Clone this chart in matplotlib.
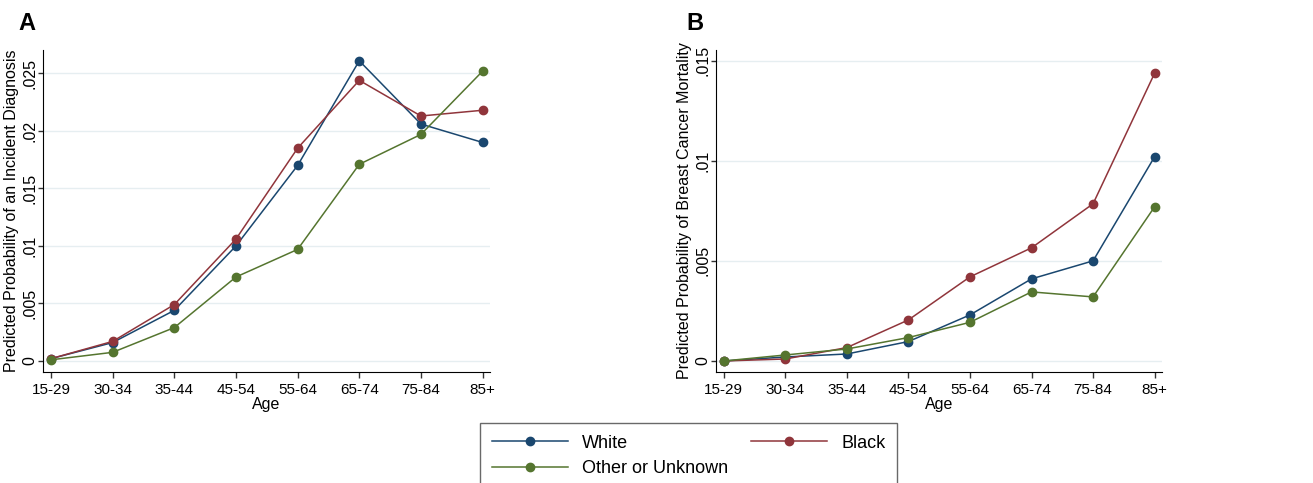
import numpy as np
import matplotlib.pyplot as plt

plt.rcParams['font.family'] = ['Liberation Sans', 'DejaVu Sans']

ages = ['15-29', '30-34', '35-44', '45-54', '55-64', '65-74', '75-84', '85+']
groups = ['White', 'Black', 'Other or Unknown']
colors = ['#1a476f', '#90353b', '#55752f']

# panel A: incident diagnosis
inc_white = [0.0002, 0.0016, 0.0044, 0.0100, 0.0170, 0.0261, 0.0206, 0.0190]
inc_black = [0.0002, 0.0017, 0.0049, 0.0106, 0.0185, 0.0244, 0.0213, 0.0218]
inc_other = [0.0001, 0.00075, 0.0029, 0.0073, 0.0097, 0.0171, 0.0197, 0.0252]

# panel B: breast cancer mortality
mort_white = [0.0, 0.0002, 0.00035, 0.00097, 0.0023, 0.0041, 0.0050, 0.0102]
mort_black = [0.0, 0.0001, 0.00067, 0.00205, 0.0042, 0.00565, 0.00785, 0.01437]
mort_other = [0.0, 0.0003, 0.0006, 0.00117, 0.00193, 0.00345, 0.0032, 0.0077]

inc_ticks = [0, 0.005, 0.01, 0.015, 0.02, 0.025]
inc_labels = ['0', '.005', '.01', '.015', '.02', '.025']
mort_ticks = [0, 0.005, 0.01, 0.015]
mort_labels = ['0', '.005', '.01', '.015']

fig = plt.figure(figsize=(13.13, 4.83), dpi=100)
axA = fig.add_axes([0.0327, 0.2298, 0.3405, 0.6667])
axB = fig.add_axes([0.5451, 0.2298, 0.3399, 0.6667])

x = np.arange(len(ages))
panels = [
    (axA, [inc_white, inc_black, inc_other], inc_ticks, inc_labels,
     (-0.00096, 0.02704), 'Predicted Probability of an Incident Diagnosis', 'A', 18),
    (axB, [mort_white, mort_black, mort_other], mort_ticks, mort_labels,
     (-0.00055, 0.01553), 'Predicted Probability of Breast Cancer Mortality', 'B', 686),
]

handles = []
for ax, series, ticks, labels, ylim, ylabel, tag, tagx in panels:
    for s, c, g in zip(series, colors, groups):
        h, = ax.plot(x, s, color=c, lw=1.1, marker='o', ms=6, label=g)
        if ax is axA:
            handles.append(h)
    ax.set_xlim(-0.13, 7.12)
    ax.set_ylim(*ylim)
    ax.set_xticks(x)
    ax.set_xticklabels(ages, fontsize=11)
    ax.set_yticks(ticks)
    ax.set_yticklabels(labels, fontsize=11.5, rotation=90, va='center')
    ax.grid(axis='y', color='#e6eef1', lw=1)
    ax.set_axisbelow(True)
    ax.spines['top'].set_visible(False)
    ax.spines['right'].set_visible(False)
    ax.tick_params(direction='out', length=4.5, width=1, color='#333333')
    ax.tick_params(axis='x', pad=3.5)
    ax.tick_params(axis='y', length=3.5, pad=0.5)
    ax.set_xlabel('Age', fontsize=11.5, labelpad=0)
    ax.set_ylabel(ylabel, fontsize=11.5)
    w_px = ax.get_position().width * 1313
    ax.yaxis.set_label_coords(-24 / w_px, 0.5)
    fig.text(tagx / 1313, 0.952, tag, fontsize=17, fontweight='bold',
             ha='left', va='center')

# legend order so White/Black share first row, Other below
top = 1 - 423 / 483
leg = fig.legend([handles[0], handles[2], handles[1]],
                 [groups[0], groups[2], groups[1]],
                 ncol=2, mode='expand', loc='upper left',
                 bbox_to_anchor=(480 / 1313, top - 0.12, 417 / 1313, 0.12),
                 fontsize=13, frameon=True, fancybox=False, edgecolor='#444444',
                 handlelength=4.2, handletextpad=0.8, borderaxespad=0,
                 borderpad=0.65, labelspacing=0.45)
leg.get_frame().set_linewidth(1)

fig.savefig('out.png', dpi=100)
